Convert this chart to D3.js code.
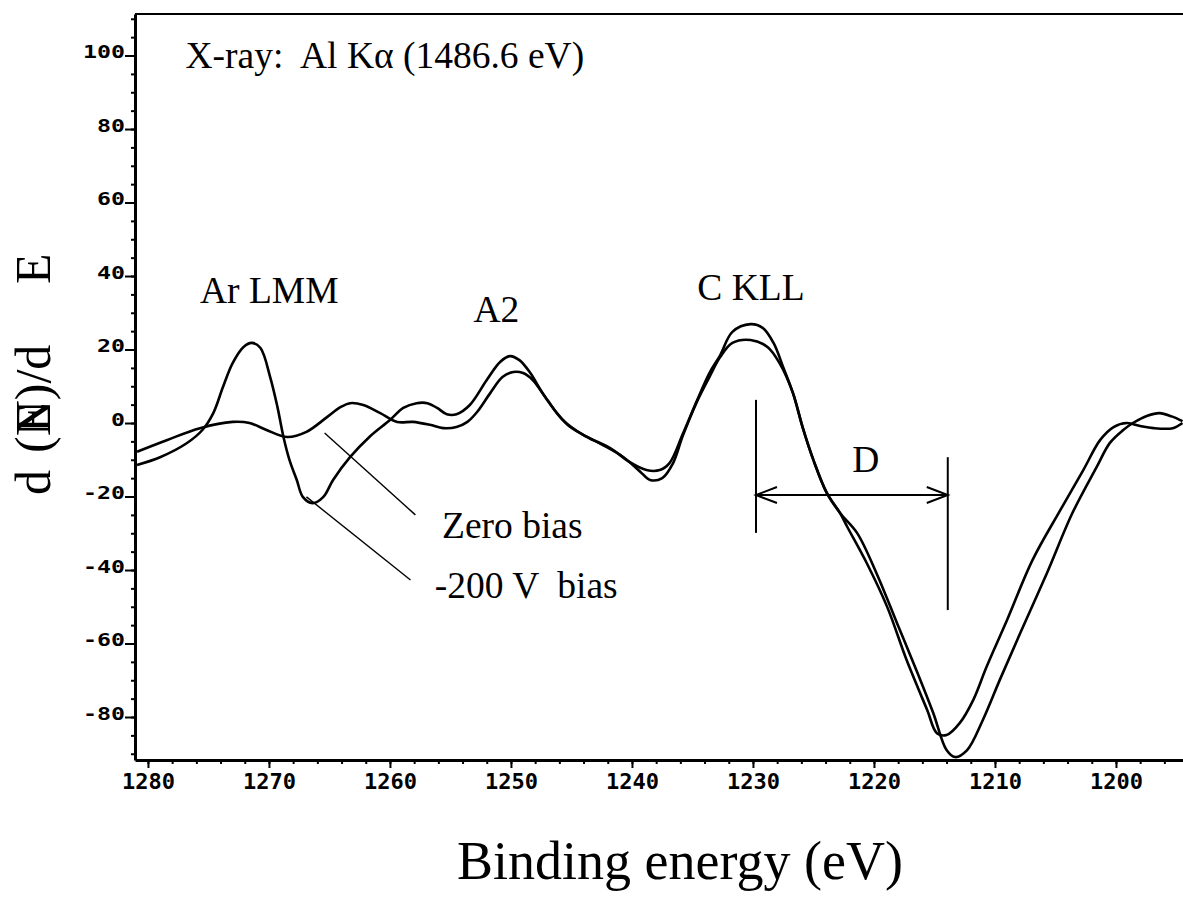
<!DOCTYPE html>
<html>
<head>
<meta charset="utf-8">
<script src="https://cdn.jsdelivr.net/npm/d3@7"></script>
<style>
  body { margin: 0; background: #fff; }
  svg { display: block; }
  .serif { font-family: "Liberation Serif", "Times New Roman", serif; white-space: pre; }
</style>
</head>
<body>
<div id="chart"></div>
<script>
// binding energy (eV) / dN/dE
var biasEnergy = [1280.9, 1279.0, 1276.8, 1275.5, 1274.6, 1273.8, 1273.0, 1272.1, 1271.4, 1270.7,
    1269.9, 1269.3, 1268.8, 1268.3, 1267.7, 1267.2, 1266.4, 1265.5, 1264.7, 1263.3,
    1261.7, 1260.0, 1258.9, 1257.8, 1256.9, 1256.1, 1255.3, 1254.5, 1253.4, 1252.0,
    1250.9, 1250.1, 1249.3, 1248.4, 1247.4, 1246.2, 1245.1, 1243.5, 1241.8, 1240.2,
    1238.8, 1237.7, 1236.9, 1235.8, 1234.6, 1233.6, 1232.7, 1231.7, 1230.2, 1229.2,
    1228.3, 1227.5, 1226.7, 1225.9, 1225.0, 1223.9, 1222.8, 1221.4, 1219.8, 1218.1,
    1216.4, 1215.1, 1214.0, 1213.3, 1212.3, 1211.0, 1209.6, 1207.9, 1205.7, 1203.6,
    1201.6, 1200.5, 1199.4, 1198.6, 1197.4, 1196.4, 1195.4, 1194.5];
var biasValue = [-11.4, -9.3, -5.5, -1.9, 2.7, 9.8, 16.3, 20.7, 21.8, 20.4,
    12.5, 4.4, -3.8, -10.1, -15.5, -20.1, -21.8, -20.1, -15.5, -9.3,
    -3.8, 0.8, 4.1, 5.4, 5.4, 4.1, 2.4, 2.4, 4.9, 11.7,
    16.6, 18.2, 17.1, 13.6, 8.2, 2.7, -1.1, -4.1, -6.8, -10.6,
    -12.8, -12.8, -10.9, -3.0, 6.3, 13.6, 18.5, 24.8, 26.9, 25.9,
    21.8, 15.2, 8.2, -1.1, -10.1, -19.0, -24.5, -29.9, -40.8, -54.4,
    -68.0, -78.9, -89.0, -90.9, -89.0, -80.8, -69.9, -57.1, -40.8, -24.5,
    -12.0, -5.4, -1.9, 0, 2.0, 2.7, 1.8, 0.5];

var zeroEnergy = [1280.9, 1278.4, 1275.7, 1273.0, 1271.6, 1270.2, 1268.5, 1266.9, 1265.2, 1264.1,
    1263.3, 1262.2, 1260.8, 1259.4, 1258.1, 1256.7, 1255.6, 1254.5, 1253.6, 1252.8,
    1251.7, 1250.7, 1249.8, 1249.0, 1248.2, 1247.0, 1245.7, 1244.0, 1242.4, 1240.7,
    1239.3, 1238.5, 1237.5, 1236.6, 1235.8, 1234.6, 1233.6, 1232.7, 1231.7, 1230.2,
    1228.8, 1227.8, 1226.7, 1225.9, 1225.0, 1223.9, 1222.8, 1222.2, 1220.6, 1218.9,
    1217.3, 1215.6, 1214.8, 1214.0, 1212.9, 1211.8, 1210.7, 1209.0, 1206.9, 1204.6,
    1202.7, 1201.3, 1200.2, 1199.1, 1198.0, 1196.9, 1195.3, 1194.5];
var zeroValue = [-7.8, -4.6, -1.4, 0.3, 0, -1.9, -3.8, -2.4, 1.6, 4.3,
    5.4, 4.9, 2.7, 0.3, 0.3, -0.5, -1.4, -1.1, 0.3, 3.0,
    8.2, 12.5, 13.9, 13.6, 11.7, 6.3, 0.8, -3.3, -6.0, -9.3,
    -13.3, -15.5, -15.0, -10.9, -3.5, 6.0, 12.5, 18.0, 21.8, 22.6,
    20.7, 16.3, 8.2, -1.1, -10.1, -19.0, -24.5, -28.3, -38.1, -50.1,
    -64.5, -78.1, -84.4, -84.9, -81.6, -75.4, -66.4, -53.6, -37.3, -23.7,
    -12.8, -4.6, -1.1, 0, -0.8, -1.4, -1.4, 0];

var yTicks = [-80, -60, -40, -20, 0, 20, 40, 60, 80, 100];
var xTicks = [1280, 1270, 1260, 1250, 1240, 1230, 1220, 1210, 1200];

// text labels in data units [energy, value, text]
var labels = [
    [1276.9, 96.6, 'X-ray:  Al K\u03b1 (1486.6 eV)'],
    [1275.7, 32.7, 'Ar LMM'],
    [1253.1, 27.5, 'A2'],
    [1234.6, 33.5, 'C KLL'],
    [1221.8, -13.3, 'D'],
    [1255.7, -31.3, 'Zero bias'],
    [1256.3, -47.6, '-200 V  bias']
];
// leader lines [e1, v1, e2, v2]
var leaders = [
    [1265.4, -2.7, 1257.9, -25.0],
    [1266.9, -20.1, 1258.3, -42.7]
];
// D marker
var dLeft = [1229.75, 6.3, -29.9];
var dRight = [1213.9, -9.3, -50.9];
var dArrowY = -19.6;

var width = 1183, height = 898;
var margin = {left: 135, right: 0, top: 14, bottom: 138};

var x = d3.scaleLinear()
    .domain([1281.07, 1194.46])
    .range([margin.left, width - margin.right]);
var y = d3.scaleLinear()
    .domain([-91.7, 111.3])
    .range([height - margin.bottom, margin.top]);

var svg = d3.select('#chart').append('svg')
    .attr('width', width)
    .attr('height', height);

svg.append('clipPath').attr('id', 'plotClip')
    .append('rect')
    .attr('x', margin.left).attr('y', margin.top)
    .attr('width', width - margin.left - margin.right)
    .attr('height', height - margin.top - margin.bottom);

// minor ticks
svg.append('g')
    .attr('transform', 'translate(' + margin.left + ',0)')
    .call(d3.axisLeft(y).tickValues(d3.range(-90, 111, 5)).tickSize(4).tickFormat(''))
    .call(function (g) { g.select('.domain').remove(); })
    .selectAll('line').attr('stroke-width', 2);
svg.append('g')
    .attr('transform', 'translate(0,' + (height - margin.bottom) + ')')
    .call(d3.axisBottom(x).tickValues(d3.range(1280, 1194, -2)).tickSize(4).tickFormat(''))
    .call(function (g) { g.select('.domain').remove(); })
    .selectAll('line').attr('stroke-width', 2);

// y axis
var yAxis = svg.append('g')
    .attr('transform', 'translate(' + margin.left + ',0)')
    .call(d3.axisLeft(y).tickValues(yTicks).tickSize(10).tickSizeOuter(0)
        .tickFormat(function (d) { return String(d); }));
yAxis.select('.domain').attr('stroke-width', 3);
yAxis.selectAll('.tick line').attr('stroke-width', 2);
yAxis.selectAll('.tick text')
    .attr('x', -10)
    .attr('dy', '2px')
    .attr('font-family', 'DejaVu Sans Mono, monospace')
    .attr('font-weight', 'bold')
    .attr('font-size', 18)
    .attr('textLength', function (d) { return String(d).length * 14; })
    .attr('lengthAdjust', 'spacingAndGlyphs')
    .attr('fill', '#000');

// x axis
var xAxis = svg.append('g')
    .attr('transform', 'translate(0,' + (height - margin.bottom) + ')')
    .call(d3.axisBottom(x).tickValues(xTicks).tickSize(8).tickSizeOuter(0)
        .tickFormat(d3.format('d')));
xAxis.select('.domain').attr('stroke-width', 3);
xAxis.selectAll('.tick line').attr('stroke-width', 2);
xAxis.selectAll('.tick text')
    .attr('y', 29)
    .attr('dy', 0)
    .attr('font-family', 'DejaVu Sans Mono, monospace')
    .attr('font-weight', 'bold')
    .attr('font-size', 22)
    .attr('textLength', 53)
    .attr('lengthAdjust', 'spacingAndGlyphs')
    .attr('fill', '#000');

// top border
svg.append('line')
    .attr('x1', margin.left).attr('x2', width)
    .attr('y1', margin.top).attr('y2', margin.top)
    .attr('stroke', '#000').attr('stroke-width', 2);

// curves
var line = d3.line()
    .x(function (d) { return x(d[0]); })
    .y(function (d) { return y(d[1]); })
    .curve(d3.curveCatmullRom.alpha(0.5));

var curves = [
    d3.zip(biasEnergy, biasValue),
    d3.zip(zeroEnergy, zeroValue)
];
svg.append('g')
    .attr('clip-path', 'url(#plotClip)')
    .selectAll('path')
    .data(curves)
    .enter()
    .append('path')
    .attr('d', line)
    .attr('fill', 'none')
    .attr('stroke', '#000')
    .attr('stroke-width', 2.6)
    .attr('stroke-linejoin', 'round');

// leaders
svg.append('g').selectAll('line')
    .data(leaders)
    .enter()
    .append('line')
    .attr('x1', function (d) { return x(d[0]); })
    .attr('y1', function (d) { return y(d[1]); })
    .attr('x2', function (d) { return x(d[2]); })
    .attr('y2', function (d) { return y(d[3]); })
    .attr('stroke', '#000')
    .attr('stroke-width', 1.4);

// D marker
var dg = svg.append('g').attr('stroke', '#000').attr('stroke-width', 2).attr('fill', 'none');
[dLeft, dRight].forEach(function (d) {
    dg.append('line')
        .attr('x1', x(d[0])).attr('x2', x(d[0]))
        .attr('y1', y(d[1])).attr('y2', y(d[2]));
});
var ay = y(dArrowY), ax1 = x(dLeft[0]), ax2 = x(dRight[0]);
dg.append('line').attr('x1', ax1).attr('x2', ax2).attr('y1', ay).attr('y2', ay);
dg.append('path').attr('d', 'M' + (ax1 + 21) + ',' + (ay - 8) + 'L' + ax1 + ',' + ay + 'L' + (ax1 + 21) + ',' + (ay + 8));
dg.append('path').attr('d', 'M' + (ax2 - 21) + ',' + (ay - 8) + 'L' + ax2 + ',' + ay + 'L' + (ax2 - 21) + ',' + (ay + 8));

// annotations
svg.append('g').selectAll('text')
    .data(labels)
    .enter()
    .append('text')
    .attr('class', 'serif')
    .attr('font-family', 'Liberation Serif, Times New Roman, serif')
    .attr('x', function (d) { return x(d[0]); })
    .attr('y', function (d) { return y(d[1]); })
    .attr('font-size', 37.5)
    .text(function (d) { return d[2]; });

// axis titles
svg.append('text')
    .attr('class', 'serif')
    .attr('font-family', 'Liberation Serif, Times New Roman, serif')
    .attr('x', 680)
    .attr('y', 879)
    .attr('text-anchor', 'middle')
    .attr('font-size', 54)
    .text('Binding energy (eV)');

// y title: "d (N)/d E" with the stray E printed over the N
var yTitle = [
    [495, 'd'],
    [453, '(N)/d'],
    [433, 'E'],
    [284, 'E']
];
svg.append('g').selectAll('text')
    .data(yTitle)
    .enter()
    .append('text')
    .attr('class', 'serif')
    .attr('font-family', 'Liberation Serif, Times New Roman, serif')
    .attr('font-size', 50)
    .attr('transform', function (d) { return 'translate(50,' + d[0] + ') rotate(-90)'; })
    .text(function (d) { return d[1]; });
</script>
</body>
</html>
